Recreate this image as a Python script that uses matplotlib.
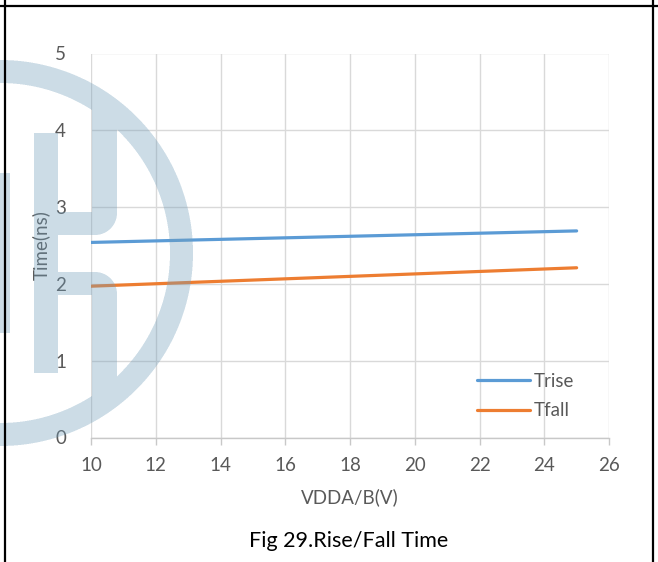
import matplotlib
matplotlib.use("Agg")
import matplotlib.pyplot as plt
from matplotlib.lines import Line2D
import numpy as np

plt.rcParams['font.family'] = ['Lato', 'DejaVu Sans']

# supply voltage (V) and edge times (ns)
vdd = [10, 15, 20, 25]
t_rise = [2.54, 2.59, 2.64, 2.69]
t_fall = [1.97, 2.05, 2.13, 2.21]

x_ticks = [10, 12, 14, 16, 18, 20, 22, 24, 26]
y_ticks = [0, 1, 2, 3, 4, 5]

W, H = 658, 562
fs = 13.5
fig = plt.figure(figsize=(W / 100, H / 100), dpi=100)
ax = fig.add_axes([91 / W, 1 - 437.5 / H, (609 - 91) / W, (437.5 - 53.5) / H])

ax.plot(vdd, t_rise, color='#5B9BD5', lw=2.3, label='Trise', solid_capstyle='round')
ax.plot(vdd, t_fall, color='#ED7D31', lw=2.3, label='Tfall', solid_capstyle='round')

ax.set_xlim(10, 26)
ax.set_ylim(0, 5)
ax.set_xticks(x_ticks)
ax.set_yticks(y_ticks)
ax.grid(True, color='#d9d9d9', lw=1.0)
ax.set_axisbelow(True)
for s in ['top', 'right', 'left']:
    ax.spines[s].set_visible(False)
ax.spines['bottom'].set_color('#c8c8c8')
ax.spines['bottom'].set_linewidth(1.0)
ax.tick_params(axis='x', colors='#c8c8c8', length=5, width=1.0, pad=9,
               labelcolor='#595959', labelsize=fs)
ax.tick_params(axis='y', length=0, pad=18, labelcolor='#595959', labelsize=fs)

ax.set_xlabel('VDDA/B(V)', color='#595959', fontsize=fs, labelpad=10)
ax.set_ylabel('Time(ns)', color='#595959', fontsize=fs, labelpad=4)

ax.legend(loc='lower right', bbox_to_anchor=(0.966, 0.003), frameon=False, fontsize=fs,
          handlelength=2.85, handletextpad=0.2, labelspacing=0.68, labelcolor='#595959')

fig.text(349 / W, 1 - 541 / H, 'Fig 29.Rise/Fall Time', ha='center', va='center',
         fontsize=15.5, color='black')

# logo watermark, rasterised as a coverage mask over the page
ss = 3
yy, xx = np.mgrid[0:H * ss, 0:W * ss]
px = (xx + 0.5) / ss
py = (yy + 0.5) / ss
r = np.hypot(px - 0, py - 253)
ring = (r >= 170) & (r <= 193)
bar1 = (px >= 0) & (px <= 10) & (py >= 173) & (py <= 333)
bar2 = (px >= 34) & (px <= 58) & (py >= 133) & (py <= 373)
upper = (((px >= 58) & (px <= 117) & (py >= 212) & (py <= 235)) |
         ((px >= 92) & (px <= 117) & (py >= 100) & (py <= 235)))
upper &= ~((px > 95) & (py > 213) & (np.hypot(px - 95, py - 213) > 22))
lower = (((px >= 58) & (px <= 117) & (py >= 272) & (py <= 295)) |
         ((px >= 92) & (px <= 117) & (py >= 272) & (py <= 420)))
lower &= ~((px > 95) & (py < 294) & (np.hypot(px - 95, py - 294) > 22))
mask = ring | bar1 | bar2 | ((upper | lower) & (r <= 193))
cover = mask.reshape(H, ss, W, ss).mean(axis=(1, 3))

rgba = np.zeros((H, W, 4))
rgba[..., 0] = 0.45
rgba[..., 1] = 0.62
rgba[..., 2] = 0.73
rgba[..., 3] = 0.36 * cover

wm = fig.add_axes([0, 0, 1, 1], zorder=5)
wm.imshow(rgba, extent=(0, W, H, 0), interpolation='nearest')
wm.set_xlim(0, W)
wm.set_ylim(H, 0)
wm.axis('off')

# table cell borders
fig.add_artist(Line2D([0, 1], [1 - 6 / H, 1 - 6 / H], color='black', lw=1.6, zorder=10))
fig.add_artist(Line2D([5 / W, 5 / W], [0, 1], color='black', lw=1.6, zorder=10))
fig.add_artist(Line2D([653 / W, 653 / W], [0, 1], color='black', lw=1.6, zorder=10))

fig.savefig('out.png', dpi=100)
